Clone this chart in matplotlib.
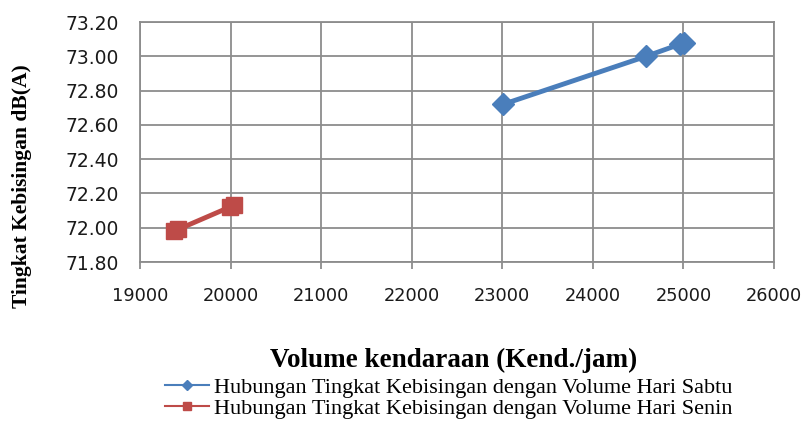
import matplotlib
matplotlib.use("Agg")
import matplotlib.pyplot as plt
from matplotlib.lines import Line2D

# data
sabtu_volume = [23010, 24590, 24960, 25010]
sabtu_level = [72.72, 73.00, 73.07, 73.08]
senin_volume = [19380, 19420, 19990, 20040]
senin_level = [71.98, 71.99, 72.12, 72.13]

x_ticks = [19000, 20000, 21000, 22000, 23000, 24000, 25000, 26000]
y_ticks = [71.80, 72.00, 72.20, 72.40, 72.60, 72.80, 73.00, 73.20]

label_sabtu = "Hubungan Tingkat Kebisingan dengan Volume Hari Sabtu"
label_senin = "Hubungan Tingkat Kebisingan dengan Volume Hari Senin"

blue = "#4a7ebb"
red = "#be4b48"
grid_col = "#8c8c8c"

fig = plt.figure(figsize=(8.01, 4.28), dpi=100)
ax = fig.add_axes([140 / 801, 1 - 262 / 428, 634 / 801, 240 / 428])

ax.plot(sabtu_volume, sabtu_level, color=blue, lw=3.5, marker="D",
        markersize=11, zorder=3, clip_on=False)
ax.plot(senin_volume, senin_level, color=red, lw=3.5, marker="s",
        markersize=11, zorder=3, clip_on=False)

ax.set_xlim(19000, 26000)
ax.set_ylim(71.80, 73.20)
ax.set_xticks(x_ticks)
ax.set_yticks(y_ticks)
ax.set_yticklabels(["%.2f" % v for v in y_ticks])
ax.grid(True, color=grid_col, lw=1.3)
ax.set_axisbelow(True)
for s in ax.spines.values():
    s.set_color(grid_col)
    s.set_linewidth(1.3)

ax.tick_params(axis="x", length=5, width=1.3, color=grid_col, pad=13,
               labelsize=12.8, labelcolor="#1a1a1a")
ax.tick_params(axis="y", length=0, pad=15, labelsize=13.5, labelcolor="#1a1a1a")

fig.text(454 / 801, 1 - 360 / 428, "Volume kendaraan (Kend./jam)",
         family="Liberation Serif", weight="bold", fontsize=19.5,
         ha="center", va="center")
fig.text(22 / 801, 1 - 186 / 428, "Tingkat Kebisingan dB(A)",
         family="Liberation Serif", weight="bold", fontsize=15.5,
         rotation=90, ha="center", va="center")

handles = [
    Line2D([], [], color=blue, lw=1.5, marker="D", markersize=5),
    Line2D([], [], color=red, lw=1.5, marker="s", markersize=6),
]
fig.legend(handles, [label_sabtu, label_senin], loc="center left",
           bbox_to_anchor=(165 / 801, 1 - 398 / 428), frameon=False,
           prop={"family": "Liberation Serif", "size": 16},
           handlelength=2.0, handletextpad=0.2, labelspacing=0.0,
           borderpad=0, borderaxespad=0)

fig.savefig("out.png", dpi=100)
